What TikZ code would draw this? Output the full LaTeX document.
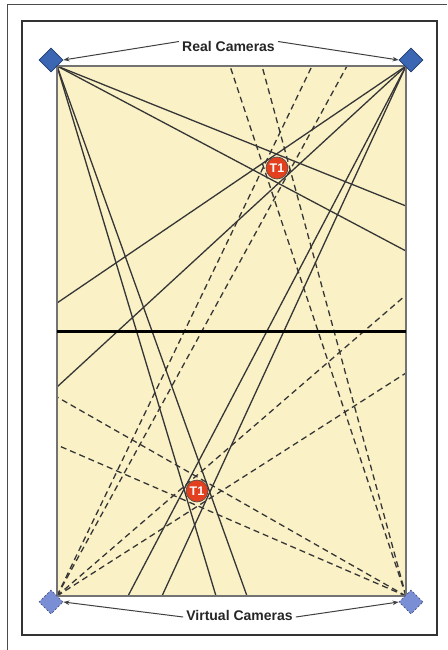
\documentclass[tikz,border=0pt]{standalone}
\usepackage{fontspec}
\setmainfont{Liberation Sans}
\usetikzlibrary{shapes.geometric,arrows.meta}
\definecolor{court}{HTML}{FAF1C6}
\definecolor{realcam}{HTML}{3B66B4}
\definecolor{virtcam}{HTML}{7A8ED6}
\definecolor{tgt}{HTML}{E2401E}
\definecolor{ray}{HTML}{363636}
\tikzset{
  realcamera/.style={diamond,draw=realcam!60!black,fill=realcam,line width=0.8pt,minimum size=24pt,inner sep=0pt},
  virtcamera/.style={diamond,draw=virtcam!60!black,fill=virtcam,dashed,dash pattern=on 2pt off 2pt,line width=0.8pt,minimum size=24pt,inner sep=0pt},
  solidray/.style={draw=ray,line width=1.3pt},
  dashray/.style={draw=ray,line width=1.3pt,dash pattern=on 6pt off 4pt},
  target/.style={circle,fill=tgt,draw=black!70,line width=0.6pt,minimum size=22pt,inner sep=0pt,text=white,font=\bfseries\fontsize{12.5}{13}\selectfont},
  lbl/.style={font=\bfseries\fontsize{14}{16}\selectfont,inner xsep=3pt,inner ysep=0pt,text=black!85},
  pointer/.style={draw=black!75,line width=1pt,-{Stealth[length=6pt,width=4.5pt]}}
}
\begin{document}
\begin{tikzpicture}[x=1pt,y=-1pt]
\useasboundingbox (0,0) rectangle (447,650);
\fill[white] (0,0) rectangle (447,650);
% outer frame
\draw[black!70,line width=1pt] (7,650) -- (7,5) -- (447,5);
% inner frame
\draw[black!80,line width=1.2pt] (22,21) rectangle (437,635);
% court
\coordinate (A) at (57,66);
\coordinate (B) at (406,66);
\coordinate (C) at (57,596);
\coordinate (D) at (406,596);
\fill[court] (A) rectangle (D);
% end points on the court edges
\coordinate (r1) at (406,206);
\coordinate (r2) at (406,251);
\coordinate (b1) at (216,596);
\coordinate (b2) at (247,596);
\coordinate (l1) at (57,303);
\coordinate (l2) at (57,387);
\coordinate (b3) at (128,596);
\coordinate (b4) at (162,596);
\coordinate (t1) at (312,66);
\coordinate (t2) at (347,66);
\coordinate (r3) at (406,295);
\coordinate (r4) at (406,373);
\coordinate (t3) at (230,66);
\coordinate (t4) at (262,66);
\coordinate (l3) at (57,397);
\coordinate (l4) at (57,445);
% solid rays from real cameras
\draw[solidray] (A) -- (r1);
\draw[solidray] (A) -- (r2);
\draw[solidray] (A) -- (b1);
\draw[solidray] (A) -- (b2);
\draw[solidray] (B) -- (l1);
\draw[solidray] (B) -- (l2);
\draw[solidray] (B) -- (b3);
\draw[solidray] (B) -- (b4);
% dashed rays from virtual cameras
\draw[dashray] (C) -- (t1);
\draw[dashray] (C) -- (t2);
\draw[dashray] (C) -- (r3);
\draw[dashray] (C) -- (r4);
\draw[dashray] (D) -- (t3);
\draw[dashray] (D) -- (t4);
\draw[dashray] (D) -- (l3);
\draw[dashray] (D) -- (l4);
% court outline and centre line
\draw[black!55,line width=1.2pt] (A) rectangle (D);
\coordinate (ml) at (57,331);
\coordinate (mr) at (406,331);
\draw[black,line width=3pt] (ml) -- (mr);
% targets
\node[target] (T1a) at (277,168) {T1};
\node[target] (T1b) at (197,491) {T1};
% cameras
\node[realcamera] (camTL) at (51,60) {};
\node[realcamera] (camTR) at (411,60) {};
\node[virtcamera] (camBL) at (51,602) {};
\node[virtcamera] (camBR) at (411,602) {};
% labels
\node[lbl] (lblR) at (228.5,46.5) {Real Cameras};
\node[lbl] (lblV) at (239.5,615) {Virtual Cameras};
\draw[pointer] ([yshift=5pt]lblR.west) -- (camTL.east);
\draw[pointer] ([yshift=5pt]lblR.east) -- (camTR.west);
\draw[pointer] ([yshift=-2pt]lblV.west) -- (camBL.east);
\draw[pointer] ([yshift=-2pt]lblV.east) -- (camBR.west);
\end{tikzpicture}
\end{document}
